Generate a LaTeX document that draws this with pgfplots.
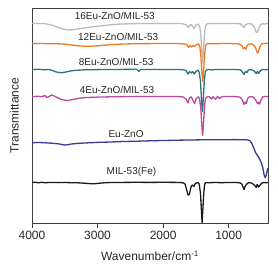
\documentclass[border=0pt]{standalone}
\usepackage{pgfplots}
\pgfplotsset{compat=1.18}
\usepackage{fontspec}
\setmainfont{Liberation Sans}
\definecolor{cgrey}{HTML}{BDBBB8}
\definecolor{corange}{HTML}{F07A22}
\definecolor{cteal}{HTML}{26767A}
\definecolor{cmag}{HTML}{B8499E}
\definecolor{cblue}{HTML}{3A3A92}
\definecolor{cblack}{HTML}{1A1A1A}
\definecolor{cframe}{HTML}{404040}
\begin{document}
\begin{tikzpicture}
\begin{axis}[
  scale only axis, width=236pt, height=215pt,
  x dir=reverse, xmin=400, xmax=4000, ymin=0, ymax=215,
  xtick={4000,3000,2000,1000}, ytick=\empty,
  xtick pos=bottom, tick align=outside, major tick length=5pt,
  axis line style={cframe, line width=0.9pt},
  every tick/.style={cframe, line width=0.9pt},
  /pgf/number format/assume math mode=true,
  /pgf/number format/1000 sep={},
  tick label style={font=\fontsize{12}{14}\selectfont, text=black!85},
  xlabel={Wavenumber/cm\textsuperscript{-1}},
  ylabel={Transmittance},
  label style={font=\fontsize{12}{14}\selectfont, text=black!85},
  xlabel style={at={(axis description cs:0.5,-0.153)}, anchor=center},
  ylabel style={at={(axis description cs:-0.075,0.5)}, anchor=center},
  every axis plot/.append style={line width=1.3pt, line join=round},
  clip=false,
]
% MIL-53(Fe)
\addplot[cblack] coordinates {(4000,40.5)(3950,40.8)(3900,40.2)(3850,40.7)(3800,40.3)(3700,40.6)(3600,40.4)(3500,40.5)(3400,40.3)(3300,40.2)(3200,39.8)(3100,39.3)(3050,39.2)(3000,39.6)(2900,40.2)(2800,40.5)(2600,40.6)(2400,40.7)(2200,40.6)(2000,40.7)(1800,40.6)(1700,40.3)(1665,39)(1640,33)(1620,28)(1600,28.5)(1585,33)(1570,37)(1550,38)(1530,36.5)(1510,39.5)(1470,40.5)(1450,39)(1430,30)(1415,12)(1405,0.5)(1395,12)(1380,30)(1365,39)(1345,40.5)(1300,40.3)(1200,40.5)(1100,40.3)(1000,40.6)(900,40.5)(830,40.3)(800,39)(780,36)(765,33.5)(750,36.5)(730,38.5)(700,40.3)(650,40)(620,38.5)(600,37.5)(580,35.5)(565,38.5)(545,36.0)(525,37.5)(500,39.5)(470,40.5)(430,40.3)(400,40.5)};
% Eu-ZnO
\addplot[cblue] coordinates {(4000,80.3)(3900,80.5)(3800,80.2)(3700,79.8)(3600,79.2)(3550,78.6)(3500,78.0)(3450,78.3)(3400,79.0)(3300,79.6)(3200,80.0)(3000,80.6)(2800,81.0)(2600,81.5)(2400,81.8)(2200,82.2)(2000,82.5)(1800,82.8)(1600,83.0)(1400,83.2)(1200,83.3)(1000,83.3)(900,83.4)(800,83.3)(720,83.2)(680,82.5)(650,80)(620,75.5)(590,70.5)(560,67.5)(530,64.5)(500,60)(480,55.5)(465,50)(450,46)(440,45.5)(425,48)(410,53)(400,55)};
% 4Eu
\addplot[cmag] coordinates {(4000,126.5)(3900,126.7)(3850,126.3)(3800,127.5)(3770,125.3)(3740,126.5)(3700,128)(3660,127)(3620,125.5)(3560,123.8)(3500,122.8)(3450,122.5)(3400,123.2)(3300,124.5)(3200,125.4)(3000,125.9)(2800,126.2)(2600,126.4)(2400,126.5)(2200,126.4)(2000,126.5)(1800,126.5)(1700,126.2)(1650,124)(1620,120)(1600,125)(1570,126)(1540,122)(1520,119.5)(1500,124)(1465,126.2)(1445,124.5)(1425,115)(1410,98)(1398,87.5)(1385,98)(1370,115)(1355,124)(1335,126)(1300,126.3)(1260,124)(1240,126.3)(1200,123.8)(1170,126.5)(1140,124.5)(1100,126.4)(1000,126.5)(900,126.4)(830,126)(800,124)(780,121)(765,118.5)(750,121)(730,119.5)(710,124.5)(680,126.3)(640,126.4)(610,125)(580,122)(560,119.5)(545,120.5)(530,118.8)(510,122.5)(480,126.2)(440,126.5)(400,126.5)};
% 8Eu
\addplot[cteal] coordinates {(4000,153.5)(3900,153.7)(3800,153.2)(3750,153.6)(3700,152.8)(3650,151.5)(3600,150.6)(3550,150.3)(3500,150.8)(3450,151.5)(3400,152.2)(3300,152.8)(3200,153.2)(3000,153.4)(2800,153.5)(2600,153.6)(2400,153.7)(2370,151.5)(2340,153.6)(2200,153.6)(2000,153.6)(1800,153.6)(1700,153.3)(1650,152.5)(1620,149)(1595,151.5)(1570,150)(1550,151.5)(1525,149)(1500,151.5)(1470,152.8)(1450,151)(1430,142)(1415,124)(1400,111.5)(1387,124)(1372,142)(1355,151.5)(1335,153.2)(1300,153.5)(1250,153)(1200,153.6)(1100,153.4)(1000,153.6)(900,153.5)(820,153.2)(790,151)(765,148.5)(745,151.5)(720,150.5)(700,153)(650,153.4)(610,152)(580,149.5)(560,151.5)(540,149.5)(515,152.5)(480,153.5)(440,153.3)(400,153.5)};
% 12Eu
\addplot[corange] coordinates {(4000,179.5)(3800,179.4)(3600,179.2)(3500,178.8)(3400,178.0)(3300,177.2)(3200,176.8)(3100,176.8)(3000,177.2)(2900,177.8)(2800,178.4)(2600,179.0)(2400,179.3)(2200,179.4)(2000,179.5)(1800,179.5)(1700,179.2)(1640,178.5)(1610,175.5)(1590,177.5)(1565,176)(1550,177.5)(1520,176.8)(1490,178.5)(1460,179)(1440,176.5)(1425,168)(1410,152)(1395,141)(1382,152)(1368,168)(1352,177)(1335,179.2)(1250,179.3)(1150,179.4)(1050,179.5)(950,179.4)(850,179.2)(800,177.5)(780,174.5)(760,175.5)(740,173.5)(720,177.5)(690,179)(640,179)(600,176.5)(575,172.5)(560,169.8)(545,171)(530,175)(505,178.5)(480,179.5)(440,179.5)(400,179.8)};
% 16Eu
\addplot[cgrey] coordinates {(4000,199.5)(3900,199.6)(3800,199.3)(3700,198.0)(3600,195.5)(3500,193.5)(3450,193.0)(3400,193.2)(3300,194.0)(3200,195.0)(3100,196.0)(3000,196.8)(2900,197.5)(2800,198.2)(2700,198.8)(2500,199.3)(2300,199.5)(2000,199.6)(1800,199.6)(1700,199.3)(1650,198)(1615,195.5)(1580,198.5)(1550,197)(1525,194.5)(1500,198)(1465,199)(1442,196.5)(1425,188)(1410,172)(1397,160)(1384,172)(1370,188)(1353,197)(1335,199)(1300,199.4)(1200,199.5)(1100,199.4)(1000,199.5)(900,199.5)(820,199.2)(790,197)(765,195.5)(740,198.5)(700,199.4)(650,199)(610,196)(580,190.5)(560,191)(540,195)(510,198.5)(480,199.3)(450,199)(420,199.5)(400,199.5)};
\begin{scope}[font=\fontsize{10}{12}\selectfont, text=black!85]
\node at (axis cs:2737,207) {16Eu-ZnO/MIL-53};
\node at (axis cs:2685,186.3) {12Eu-ZnO/MIL-53};
\node at (axis cs:2716,160.7) {8Eu-ZnO/MIL-53};
\node at (axis cs:2703,133) {4Eu-ZnO/MIL-53};
\node at (axis cs:2565,89) {Eu-ZnO};
\node at (axis cs:2483,50.7) {MIL-53(Fe)};
\end{scope}
\end{axis}
\path (current axis.south west) +(-32pt,-51pt) (current axis.north east) +(10pt,8pt);
\end{tikzpicture}
\end{document}
